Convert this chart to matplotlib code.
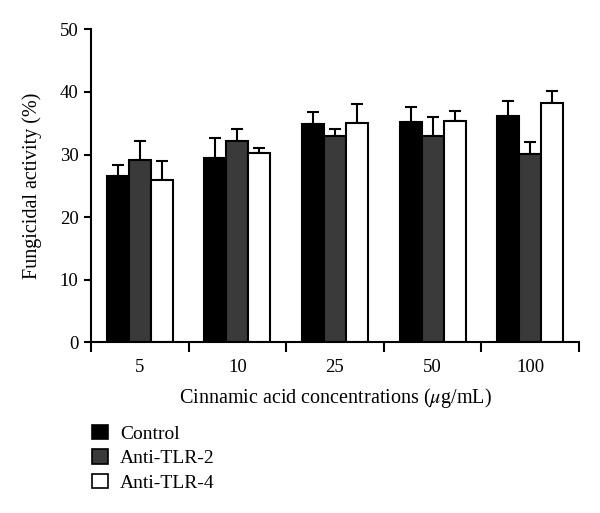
import matplotlib.pyplot as plt
import numpy as np
from matplotlib.patches import Patch

plt.rcParams['font.family'] = ['Liberation Serif', 'DejaVu Serif']
plt.rcParams['mathtext.fontset'] = 'stix'

concentrations = ['5', '10', '25', '50', '100']
series_names = ['Control', 'Anti-TLR-2', 'Anti-TLR-4']
control = [26.6, 29.4, 34.9, 35.2, 36.2]
control_err = [1.7, 3.2, 1.9, 2.4, 2.4]
anti_tlr2 = [29.2, 32.1, 33.0, 33.0, 30.1]
anti_tlr2_err = [2.9, 2.0, 1.1, 3.0, 1.9]
anti_tlr4 = [25.9, 30.2, 35.0, 35.4, 38.2]
anti_tlr4_err = [3.1, 0.9, 3.1, 1.6, 1.9]

colors = ['#000000', '#3a3a3a', '#ffffff']
values = [control, anti_tlr2, anti_tlr4]
errors = [control_err, anti_tlr2_err, anti_tlr4_err]

fig = plt.figure(figsize=(6, 5.13), dpi=100)
ax = fig.add_axes([91 / 600, (513 - 342.3) / 513, 488 / 600, 313 / 513])

x = np.arange(len(concentrations))
w = 0.225
for i in range(3):
    pos = x + (i - 1) * w
    ax.bar(pos, values[i], w, color=colors[i], edgecolor='black', linewidth=1.5, zorder=2)
    ax.errorbar(pos, values[i], yerr=[np.zeros(len(x)), errors[i]], fmt='none',
                ecolor='black', elinewidth=1.5, capsize=4, capthick=1.5, zorder=1)

ax.set_xlim(-0.5, len(concentrations) - 0.5)
ax.set_ylim(0, 50)
ax.set_yticks([0, 10, 20, 30, 40, 50])
ax.set_xticks(x)
ax.set_xticklabels(concentrations)
ax.set_xticks(np.arange(-0.5, len(concentrations)), minor=True)
ax.tick_params(axis='x', which='major', length=0, pad=12, labelsize=13.5)
ax.tick_params(axis='x', which='minor', length=7, width=1.5, direction='out')
ax.tick_params(axis='y', length=5, width=1.5, direction='out', pad=4, labelsize=13.5)
for s in ['top', 'right']:
    ax.spines[s].set_visible(False)
for s in ['left', 'bottom']:
    ax.spines[s].set_linewidth(1.5)

ax.set_ylabel('Fungicidal activity (%)', fontsize=14.5, labelpad=13)
ax.set_xlabel(r'Cinnamic acid concentrations ($\mu$g/mL)', fontsize=14.5, labelpad=7)

handles = [Patch(facecolor=c, edgecolor='black', linewidth=1.2) for c in colors]
fig.legend(handles, series_names, loc='upper left', bbox_to_anchor=(84 / 600, 1 - 417 / 513),
           frameon=False, fontsize=14, handlelength=0.85, handleheight=0.75,
           handletextpad=0.6, labelspacing=0.35, borderaxespad=0)

fig.savefig('out.png', dpi=100)
